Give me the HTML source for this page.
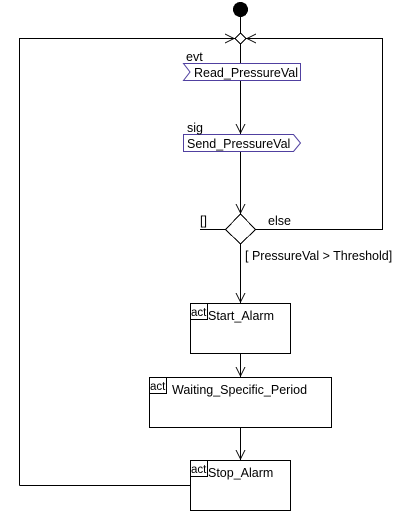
<!DOCTYPE html>
<html><head><style>body{margin:0;background:#fff}svg{display:block}text{font-family:"Liberation Sans",sans-serif;font-size:12.5px;fill:#000}.a{font-size:11.5px}</style></head><body>
<svg width="418" height="515" viewBox="0 0 418 515" xmlns="http://www.w3.org/2000/svg">
<g stroke="#000" stroke-width="1" fill="none" shape-rendering="crispEdges">
<circle cx="240.5" cy="9.5" r="7" fill="#000"/>
<line x1="240.5" y1="16" x2="240.5" y2="34"/>
<polyline points="19.5,485.5 19.5,38.5 235,38.5"/>
<polyline points="246,38.5 382.5,38.5 382.5,229.5 255,229.5"/>
<path d="M225,34 L234,38.5 L225,43 M256,34 L247,38.5 L256,43"/>
<polygon points="240.5,33 246,38.5 240.5,44 235,38.5" fill="#fff"/>
<line x1="240.5" y1="44" x2="240.5" y2="63"/>
<line x1="240.5" y1="80" x2="240.5" y2="134"/>
<path d="M236,124 L240.5,133 L245,124"/>
<line x1="240.5" y1="151" x2="240.5" y2="214"/>
<path d="M236,204 L240.5,213 L245,204"/>
<polygon points="240.5,214 255.5,229.5 240.5,244 225.5,229.5" fill="#fff"/>
<line x1="200" y1="229.5" x2="225" y2="229.5"/>
<line x1="240.5" y1="244" x2="240.5" y2="303"/>
<path d="M236,293 L240.5,302 L245,293"/>
<line x1="240.5" y1="353" x2="240.5" y2="377"/>
<path d="M236,367 L240.5,376 L245,367"/>
<line x1="240.5" y1="427" x2="240.5" y2="460"/>
<path d="M236,450 L240.5,459 L245,450"/>
<line x1="19.5" y1="485.5" x2="190" y2="485.5"/>
<rect x="190.5" y="303.5" width="100" height="50" fill="#fff"/>
<rect x="149.5" y="377.5" width="182" height="50" fill="#fff"/>
<rect x="190.5" y="460.5" width="100" height="50" fill="#fff"/>
<path d="M190.5,319.5 H207.5 V303.5 M149.5,393.5 H166.5 V377.5 M190.5,476.5 H207.5 V460.5"/>
</g>
<polygon points="183.5,63.5 300.5,63.5 300.5,80.5 183.5,80.5 190,72" fill="#fff" stroke="#5040a0"/>
<polygon points="183.5,134.5 293.5,134.5 300.5,143 293.5,151.5 183.5,151.5" fill="#fff" stroke="#5040a0"/>
<text x="186" y="61">evt</text>
<text x="194" y="77">Read_PressureVal</text>
<text x="187" y="132">sig</text>
<text x="187" y="148">Send_PressureVal</text>
<text x="200" y="225">[]</text>
<text x="268" y="225">else</text>
<text x="245" y="260">[ PressureVal &gt; Threshold]</text>
<text class="a" x="191" y="316">act</text><text x="208" y="320">Start_Alarm</text>
<text class="a" x="150" y="390">act</text><text x="172" y="394">Waiting_Specific_Period</text>
<text class="a" x="191" y="473">act</text><text x="208" y="477">Stop_Alarm</text>
</svg>
</body></html>
